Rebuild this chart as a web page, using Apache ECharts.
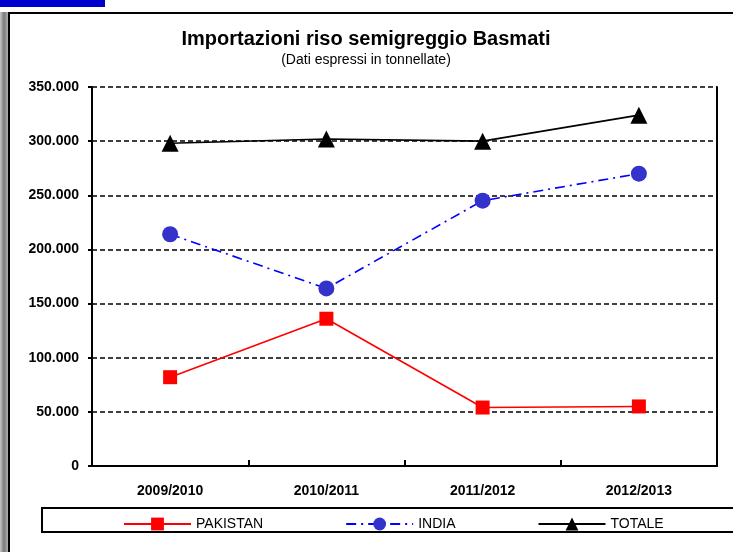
<!DOCTYPE html>
<html>
<head>
<meta charset="utf-8">
<script src="https://cdn.jsdelivr.net/npm/echarts@6/dist/echarts.min.js"></script>
<style>
  html, body { margin: 0; padding: 0; background: #fff; }
  #chart { width: 733px; height: 552px; }
</style>
</head>
<body>
<div id="chart"></div>
<script>
// dati (tonnellate)
var anni = ["2009/2010", "2010/2011", "2011/2012", "2012/2013"];
var pakistan = [82000, 136000, 54000, 55000];
var india = [214000, 164000, 245000, 270000];
var totale = [298000, 302000, 300000, 324000];
var yTicks = [0, 50000, 100000, 150000, 200000, 250000, 300000, 350000];

function fmt(v) {
  return String(v).replace(/\B(?=(\d{3})+(?!\d))/g, ".");
}

var myChart = echarts.init(document.getElementById("chart"));

var option = {
  animation: false,
  textStyle: { fontFamily: "Liberation Sans, Arial, sans-serif" },
  title: {
    text: "Importazioni riso semigreggio Basmati",
    subtext: "(Dati espressi in tonnellate)",
    left: 361,
    textAlign: "center",
    top: 24,
    itemGap: 4,
    textStyle: { fontSize: 20, fontWeight: "bold", color: "#000" },
    subtextStyle: { fontSize: 14, color: "#000" }
  },
  graphic: [
    // barra blu in alto
    { type: "rect", shape: { x: 0, y: 0, width: 105, height: 7 }, style: { fill: "#0000cc" }, silent: true },
    // bordo grigio a sinistra
    {
      type: "rect",
      shape: { x: 0, y: 12, width: 8, height: 540 },
      style: {
        fill: new echarts.graphic.LinearGradient(0, 0, 1, 0, [
          { offset: 0, color: "#c8c8c8" },
          { offset: 0.5, color: "#7a7a7a" },
          { offset: 1, color: "#b0b0b0" }
        ])
      },
      silent: true
    },
    // cornice
    { type: "rect", shape: { x: 9, y: 13, width: 760, height: 600 }, style: { fill: null, stroke: "#000", lineWidth: 2 }, silent: true },
    // riquadro legenda
    { type: "rect", shape: { x: 42, y: 508, width: 720, height: 24 }, style: { fill: "#fff", stroke: "#000", lineWidth: 2 }, silent: true }
  ],
  legend: {
    left: 118,
    top: 512,
    itemWidth: 67,
    itemHeight: 16,
    itemGap: 82,
    textStyle: { fontSize: 14, color: "#000" },
    data: ["PAKISTAN", "INDIA", "TOTALE"]
  },
  grid: { left: 92, top: 87, right: 16, bottom: 86 },
  xAxis: {
    type: "category",
    data: anni,
    boundaryGap: true,
    axisLine: { lineStyle: { color: "#000", width: 2 } },
    axisTick: { show: true, inside: true, length: 6, lineStyle: { color: "#000", width: 2 } },
    axisLabel: { color: "#000", fontSize: 14, fontWeight: "bold", margin: 18 }
  },
  yAxis: [
    {
      type: "value",
      min: 0,
      max: 350000,
      interval: 50000,
      axisLine: { show: true, lineStyle: { color: "#000", width: 2 } },
      axisTick: { show: true, length: 4, lineStyle: { color: "#000", width: 2 } },
      axisLabel: {
        color: "#000",
        fontSize: 14,
        fontWeight: "bold",
        margin: 13,
        formatter: function (v) { return yTicks.indexOf(v) >= 0 ? fmt(v) : ""; }
      },
      splitLine: {
        show: true,
        lineStyle: { color: "#000", width: 1.5, type: [5, 3] }
      }
    },
    {
      type: "value",
      position: "right",
      min: 0,
      max: 350000,
      interval: 50000,
      axisLine: { show: true, lineStyle: { color: "#000", width: 2 } },
      axisTick: { show: false },
      axisLabel: { show: false },
      splitLine: { show: false }
    }
  ],
  series: [
    {
      name: "PAKISTAN",
      type: "line",
      data: pakistan,
      symbol: "rect",
      symbolSize: 14,
      itemStyle: { color: "#ff0000" },
      lineStyle: { color: "#ff0000", width: 1.6 }
    },
    {
      name: "INDIA",
      type: "line",
      data: india,
      symbol: "circle",
      symbolSize: 16,
      itemStyle: { color: "#3333cc" },
      lineStyle: { color: "#0000ff", width: 1.6, type: [10, 5, 2, 5] }
    },
    {
      name: "TOTALE",
      type: "line",
      data: totale,
      symbol: "triangle",
      symbolSize: 17,
      itemStyle: { color: "#000" },
      lineStyle: { color: "#000", width: 1.6 }
    }
  ]
};

myChart.setOption(option);
window.addEventListener("resize", function () {
  myChart.resize();
});
</script>
</body>
</html>
